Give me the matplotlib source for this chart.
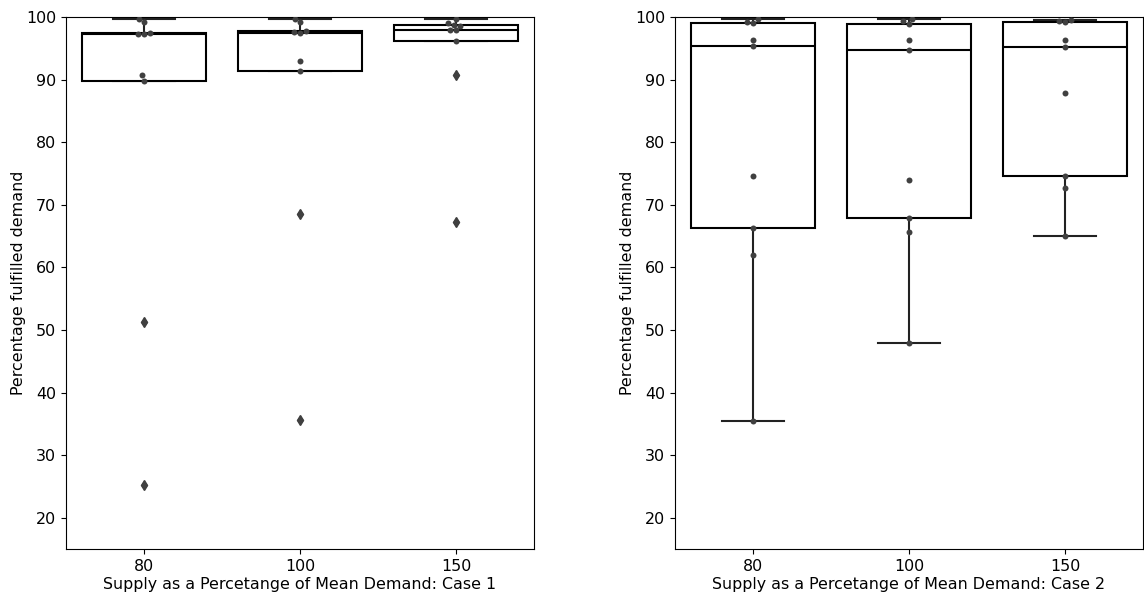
import matplotlib
matplotlib.use("Agg")
import matplotlib.pyplot as plt
import numpy as np
import pandas as pd
import seaborn as sns

categories = ["80", "100", "150"]

case1_80 = [99.7, 99.15, 97.4, 97.35, 97.25, 90.7, 89.8, 51.2, 25.2]
case1_100 = [99.7, 99.2, 97.7, 97.55, 97.4, 93.0, 91.4, 68.5, 35.6]
case1_150 = [99.7, 99.1, 98.8, 98.6, 97.9, 97.9, 96.1, 90.7, 67.2]

case2_80 = [99.7, 99.2, 99.1, 96.4, 95.4, 74.55, 66.35, 62.05, 35.4]
case2_100 = [99.7, 99.3, 98.9, 96.3, 94.8, 73.9, 67.95, 65.7, 47.9]
case2_150 = [99.6, 99.4, 99.15, 96.3, 95.2, 87.8, 74.65, 72.75, 65.0]

xlabels = ["Supply as a Percetange of Mean Demand: Case 1",
           "Supply as a Percetange of Mean Demand: Case 2"]
ylabel = "Percentage fulfilled demand"
yticks = [20, 30, 40, 50, 60, 70, 80, 90, 100]

cases = [[case1_80, case1_100, case1_150], [case2_80, case2_100, case2_150]]

plt.rcParams['font.family'] = ['DejaVu Sans']
fig = plt.figure(figsize=(11.44, 5.98), dpi=100)
axes = [fig.add_axes([66/1144, 49/598, 468/1144, 532/598]),
        fig.add_axes([675/1144, 49/598, 468/1144, 532/598])]

dark = "#3f3f3f"
fs = 11.4
for ax, groups, xl in zip(axes, cases, xlabels):
    ax.boxplot(groups, positions=range(len(categories)), widths=0.8,
               patch_artist=True, whis=1.5,
               boxprops=dict(facecolor="white", edgecolor="black", linewidth=1.5, zorder=2),
               medianprops=dict(color="black", linewidth=1.5, zorder=2.1),
               whiskerprops=dict(color="#222222", linewidth=1.5, zorder=1.5),
               capprops=dict(color="#222222", linewidth=1.5, zorder=1.5),
               flierprops=dict(marker="d", markerfacecolor=dark, markeredgecolor=dark,
                               markersize=5))
    df = pd.DataFrame({
        "x": np.repeat(np.arange(len(categories)), [len(g) for g in groups]),
        "y": np.concatenate(groups)})
    sns.swarmplot(data=df, x="x", y="y", ax=ax, color=".25", size=4.3, native_scale=True,
                  zorder=3)
    ax.set_xlim(-0.5, 2.5)
    ax.set_ylim(15, 100)
    ax.set_xticks(range(len(categories)))
    ax.set_xticklabels(categories)
    ax.set_yticks(yticks)
    ax.tick_params(labelsize=fs)
    ax.set_xlabel(xl, fontsize=fs, labelpad=2)
    ax.set_ylabel(ylabel, fontsize=fs, labelpad=0)

fig.savefig("out.png", dpi=100)
